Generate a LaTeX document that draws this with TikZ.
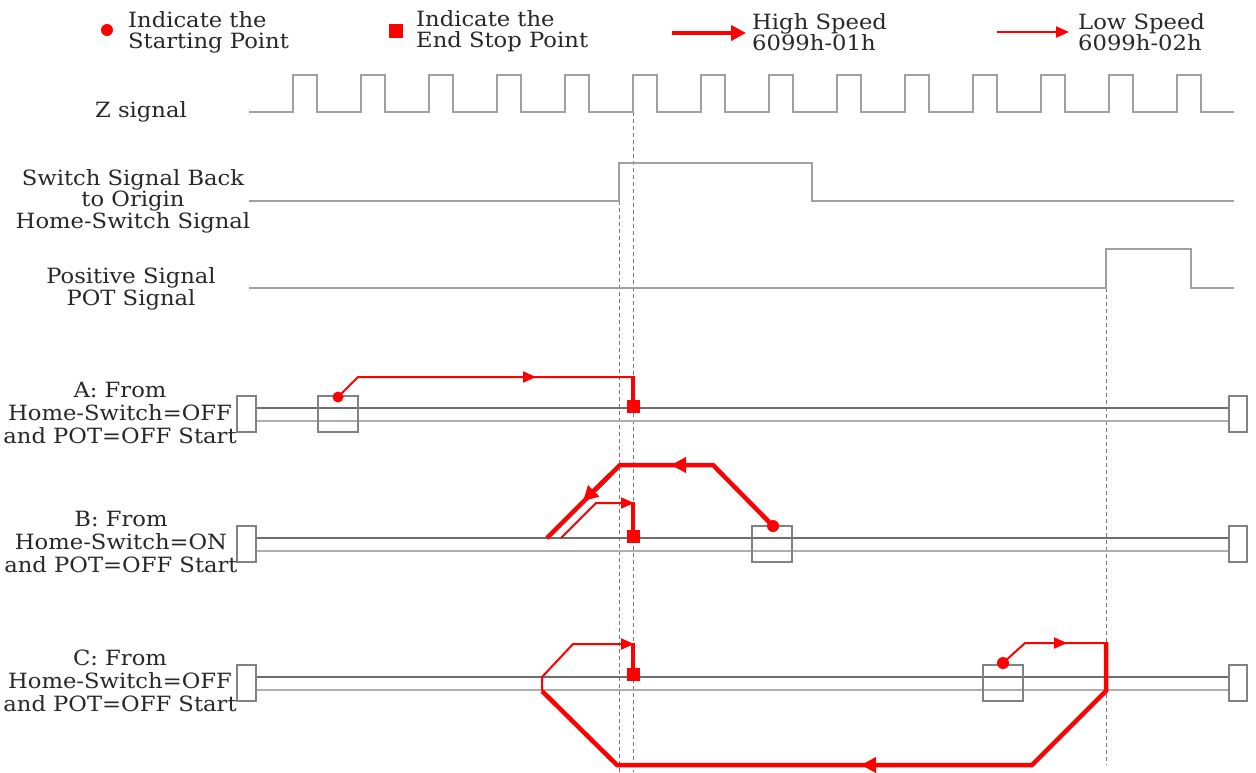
\documentclass[tikz,border=0pt]{standalone}
\usepackage{fontspec}
\setmainfont[FakeStretch=1.08]{DejaVu Serif}
\usetikzlibrary{arrows.meta}
\definecolor{sigc}{RGB}{160,160,160}
\definecolor{trk}{RGB}{110,110,110}
\definecolor{trkb}{RGB}{175,175,175}
\definecolor{boxc}{RGB}{130,130,130}
\definecolor{guidec}{RGB}{120,120,120}
\definecolor{txt}{RGB}{40,40,40}
\begin{document}
\begin{tikzpicture}[x=1pt,y=-1pt,
  sig/.style={draw=sigc,line width=1.8pt},
  guide/.style={draw=guidec,line width=0.8pt,dash pattern=on 4pt off 3pt},
  trkline/.style={draw=trk,line width=1.1pt},
  trklineb/.style={draw=trkb,line width=2pt},
  endbox/.style={draw=boxc,line width=1.1pt},
  lbl/.style={font=\fontsize{21}{23}\selectfont,align=center,inner sep=0pt,text=txt},
  leg/.style={font=\fontsize{21}{21}\selectfont,align=left,inner sep=0pt,anchor=west,text=txt},
  hi/.style={draw=red,line width=4.5pt,line join=miter,line cap=butt},
  lo/.style={draw=red,line width=2pt,line join=miter},
  vbar/.style={draw=red,line width=3.5pt},
  hitip/.style={-{Triangle[length=15pt,width=15pt]}},
  lotip/.style={-{Triangle[length=13pt,width=11pt]}},
  startdot/.style={circle,fill=red,inner sep=0pt,minimum size=12pt},
  stopsq/.style={rectangle,fill=red,inner sep=0pt,minimum size=14pt}
]
\useasboundingbox (0,0) rectangle (1256,772);
\fill[white] (0,0) rectangle (1256,772);

% ---------- legend ----------
\node[startdot] (lgdot) at (107,30) {};
\node[leg] (lgdott) at (128,32) {Indicate the\\Starting Point};
\node[stopsq] (lgsq) at (396,31) {};
\node[leg] (lgsqt) at (416,31) {Indicate the\\End Stop Point};
\coordinate (hs1) at (672,33);
\coordinate (hs2) at (746,33);
\draw[hi,hitip] (hs1) -- (hs2);
\node[leg] (hst) at (752,32) {High Speed\\6099h-01h};
\coordinate (ls1) at (997,32);
\coordinate (ls2) at (1069,32);
\draw[lo,lotip] (ls1) -- (ls2);
\node[leg] (lst) at (1078,32) {Low Speed\\6099h-02h};

% ---------- guides ----------
\draw[guide] (633,112) -- (633,772);
\draw[guide] (619,201) -- (619,772);
\draw[guide] (1106,288) -- (1106,765);

% ---------- signals ----------
\node[lbl] (zl) at (141,112) {Z signal};
\draw[sig] (249,112) \foreach \i in {0,...,13}{ -- ({293+68*\i},112) -- ({293+68*\i},75) -- ({317+68*\i},75) -- ({317+68*\i},112) } -- (1234,112);

\node[lbl,font=\fontsize{21}{17.5}\selectfont] (hl) at (133,201) {Switch Signal Back\\to Origin\\Home-Switch Signal};
\draw[sig] (249,201) -- (619,201) -- (619,163) -- (812,163) -- (812,201) -- (1234,201);

\node[lbl,font=\fontsize{21}{22}\selectfont] (pl) at (131,289) {Positive Signal\\POT Signal};
\draw[sig] (249,288) -- (1106,288) -- (1106,249) -- (1191,249) -- (1191,288) -- (1234,288);

% ---------- tracks ----------
\foreach \y/\sx in {408/318,538/752,677/983}{
  \draw[trklineb] (256,\y+13) -- (1229,\y+13);
  \draw[trkline] (256,\y) -- (1229,\y);
  \draw[endbox,fill=white] (237,\y-12) rectangle (256,\y+24);
  \draw[endbox,fill=white] (1229,\y-12) rectangle (1247,\y+24);
  \draw[endbox] (\sx,\y-12) rectangle (\sx+40,\y+24);
}

\node[lbl] (la) at (120,413) {A: From\\Home-Switch=OFF\\and POT=OFF Start};
\node[lbl] (lb) at (121,542) {B: From\\Home-Switch=ON\\and POT=OFF Start};
\node[lbl] (lc) at (120,681) {C: From\\Home-Switch=OFF\\and POT=OFF Start};

% ---------- row A ----------
\node[startdot,minimum size=11pt] (adot) at (338,397) {};
\node[stopsq,minimum size=13pt] (asq) at (633,406) {};
\coordinate (a1) at (358,377);
\coordinate (a2) at (633,377);
\draw[lo] (adot.center) -- (a1) -- (a2);
\draw[lo,lotip] (510,377) -- (536,377);
\draw[vbar] (633,376) -- (asq.center);

% ---------- row B ----------
\node[startdot] (bdot) at (773,526) {};
\node[stopsq,minimum size=13pt] (bsq) at (633,536) {};
\coordinate (b1) at (713,465);
\coordinate (b2) at (620,465);
\coordinate (b3) at (547,538);
\draw[hi] (bdot.center) -- (b1) -- (b2) -- (b3);
\draw[hi,hitip] (700,465) -- (671,465);
\draw[hi,hitip] (610,474.8) -- (583,501.3);
\coordinate (b4) at (561,538);
\coordinate (b5) at (596,503);
\coordinate (b6) at (633,503);
\draw[lo] (b4) -- (b5) -- (620,503);
\draw[lo,lotip] (610,503) -- (634,503);
\draw[vbar] (633,502) -- (bsq.center);

% ---------- row C ----------
\node[startdot] (cdot) at (1003,663) {};
\node[stopsq,minimum size=13pt] (csq) at (633,674) {};
\coordinate (c1) at (1025,643);
\coordinate (c2) at (1106,643);
\draw[lo] (cdot.center) -- (c1) -- (c2);
\draw[lo,lotip] (1045,643) -- (1067,643);
\coordinate (c3) at (1106,691);
\coordinate (c4) at (1032,765);
\coordinate (c5) at (617,765);
\coordinate (c6) at (542,691);
\draw[hi] (1106,642) -- (c3) -- (c4) -- (c5) -- (c6);
\draw[hi,hitip] (890,765) -- (861,765);
\coordinate (c7) at (542,677);
\coordinate (c8) at (573,644);
\draw[lo] (c6) -- (c7) -- (c8) -- (620,644);
\draw[lo,lotip] (610,644) -- (634,644);
\draw[vbar] (633,643) -- (csq.center);
\end{tikzpicture}
\end{document}
